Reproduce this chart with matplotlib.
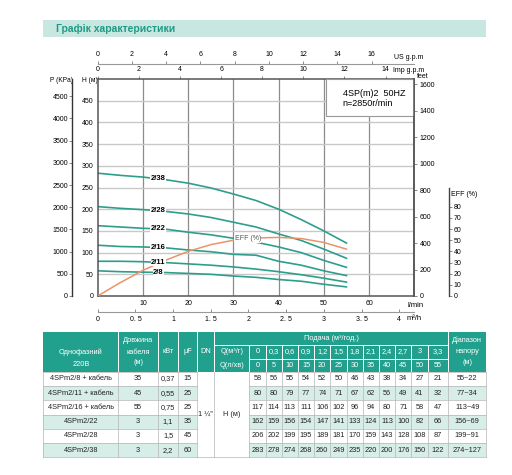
import numpy as np
import matplotlib
matplotlib.use('Agg')
import matplotlib.pyplot as plt
from matplotlib.patches import Rectangle

plt.rcParams['font.family'] = ['Liberation Sans', 'DejaVu Sans']

q_lmin = [0, 5, 10, 15, 20, 25, 30, 35, 40, 45, 50, 55]
q_m3h = ['0', '0,3', '0,6', '0,9', '1,2', '1,5', '1,8', '2,1', '2,4', '2,7', '3', '3,3']
curve_names = ['2/8', '2/11', '2/16', '2/22', '2/28', '2/38']
h_2_8 = [58, 56, 55, 54, 52, 50, 46, 43, 38, 34, 27, 21]
h_2_11 = [80, 80, 79, 77, 74, 71, 67, 62, 56, 49, 41, 32]
h_2_16 = [117, 114, 113, 111, 106, 102, 96, 94, 80, 71, 58, 47]
h_2_22 = [162, 159, 156, 154, 147, 141, 133, 124, 113, 100, 82, 66]
h_2_28 = [206, 202, 199, 195, 189, 181, 170, 159, 143, 128, 108, 87]
h_2_38 = [283, 278, 274, 268, 260, 249, 235, 220, 200, 176, 150, 122]
heads = [h_2_8, h_2_11, h_2_16, h_2_22, h_2_28, h_2_38]
eff = [0, 12, 23, 32, 40, 46, 50, 52, 52.5, 51.5, 48, 42]

models = ['4SPm2/8 + кабель', '4SPm2/11 + кабель', '4SPm2/16 + кабель',
          '4SPm2/22', '4SPm2/28', '4SPm2/38']
cable_len = ['35', '45', '55', '3', '3', '3']
kw = ['0,37', '0,55', '0,75', '1,1', '1,5', '2,2']
uf = ['15', '25', '25', '35', '45', '60']
head_range = ['55~22', '77~34', '113~49', '156~69', '199~91', '274~127']

us_ticks = list(range(0, 17, 2))
imp_ticks = list(range(0, 15, 2))
m3h_ticks = [0, 0.5, 1, 1.5, 2, 2.5, 3, 3.5, 4]
m3h_labels = ['0', '0. 5', '1', '1. 5', '2', '2. 5', '3', '3. 5', '4']

W, H = 512, 475
teal = '#22a08e'
light = '#d6ede8'
line_c = '#2e9e8c'
orange = '#e8956a'


def px(x0, y0, x1, y1):
    return [x0 / W, 1 - y1 / H, (x1 - x0) / W, (y1 - y0) / H]


fig = plt.figure(figsize=(5.12, 4.75), dpi=100)

bg = fig.add_axes([0, 0, 1, 1])
bg.set_xlim(0, W)
bg.set_ylim(H, 0)
bg.axis('off')

# title banner
bg.add_patch(Rectangle((43, 20), 443, 16.7, color='#c9e7e1', lw=0))
bg.text(56, 28.5, 'Графік характеристики', fontsize=7.5, fontweight='bold',
        color='#1e9a87', va='center')

# main chart
L, R, T, B = 97.7, 414.3, 79, 296
ax = fig.add_axes(px(L, T, R, B))
ax.set_xlim(0, 70)
ax.set_ylim(0, 500)
ax.set_xticks(range(10, 70, 10))
ax.set_yticks(range(0, 500, 50))
ax.tick_params(length=0, labelsize=5, pad=3)
for x in range(10, 70, 10):
    ax.axvline(x, color='#8c8c8c', lw=0.9, zorder=1)
for y in range(50, 500, 50):
    ax.axhline(y, color='#c8c8c8', lw=1.0, zorder=1)
for s in ax.spines.values():
    s.set_color('#555555')
    s.set_linewidth(1.1)

for name, h in zip(curve_names, heads):
    ax.plot(q_lmin, h, color=line_c, lw=1.2, zorder=2)

# info box
ax.add_patch(Rectangle((0.72, 0.83), 0.28, 0.17, transform=ax.transAxes,
                       fc='white', ec='#999999', lw=0.8, zorder=3))
ax.text(0.774, 0.934, '4SP(m)2  50HZ', transform=ax.transAxes, fontsize=6.5,
        va='center', zorder=4)
ax.text(0.774, 0.888, 'n=2850r/min', transform=ax.transAxes, fontsize=6.5,
        va='center', zorder=4)

# top Imp gpm axis on the frame
imp = ax.secondary_xaxis('top', functions=(lambda q: q / 4.546, lambda g: g * 4.546))
imp.set_xticks(imp_ticks)
imp.tick_params(length=2.5, width=0.6, labelsize=5, pad=1.5, color='#777777')
imp.spines['top'].set_visible(False)

# feet axis (right)
axf = ax.twinx()
axf.set_ylim(0, 500 * 3.2808)
axf.set_yticks(range(0, 1601, 200))
axf.tick_params(length=2, width=0.6, labelsize=5, pad=2, color='#777777')
for k in ['top', 'left', 'bottom']:
    axf.spines[k].set_visible(False)
axf.spines['right'].set_color('#555555')
axf.spines['right'].set_linewidth(1.1)

# efficiency axis
axe = ax.twinx()
axe.set_ylim(0, 217 / 11.16 * 10)
axe.set_xlim(0, 70)
axe.plot(q_lmin, eff, color=orange, lw=1.1, zorder=2)
for k in ['top', 'left', 'bottom']:
    axe.spines[k].set_visible(False)
axe.spines['right'].set_position(('outward', 34.4 * 0.72))
axe.spines['right'].set_bounds(0, 97)
axe.spines['right'].set_color('#444444')
axe.spines['right'].set_linewidth(1.0)
axe.set_yticks(range(0, 81, 10))
axe.tick_params(length=2, width=0.6, labelsize=5, pad=1.5, color='#777777')

# curve labels on top layer
for name, h in zip(curve_names, heads):
    yv = np.interp(13.4, q_lmin, h)
    axe.text(13.4, yv, name, transform=ax.transData, fontsize=5.5,
             fontweight='bold', ha='center', va='center', zorder=5,
             bbox=dict(fc='white', ec='none', pad=0.3))
axe.text(30.3, np.interp(30.3, q_lmin, eff) * 2.572 + 3, 'EFF (%)',
         transform=ax.transData, fontsize=5, ha='left', va='center',
         color='#555555', zorder=5, bbox=dict(fc='white', ec='none', pad=0.2))

# US gpm axis
axu = fig.add_axes(px(L, 64, R, 65))
axu.set_xlim(0, 70 / 3.785)
axu.set_ylim(0, 1)
axu.patch.set_visible(False)
for k in ['bottom', 'left', 'right']:
    axu.spines[k].set_visible(False)
axu.spines['top'].set_color('#999999')
axu.spines['top'].set_linewidth(0.8)
axu.set_yticks([])
axu.set_xticks(us_ticks)
axu.tick_params(axis='x', top=True, labeltop=True, bottom=False, labelbottom=False,
                length=2.5, width=0.6, labelsize=5, pad=1.5, color='#777777')

# m3/h axis
axm = fig.add_axes(px(L, 311, R, 312))
axm.set_xlim(0, 70 / 16.667)
axm.set_ylim(0, 1)
axm.patch.set_visible(False)
for k in ['top', 'left', 'right']:
    axm.spines[k].set_visible(False)
axm.spines['bottom'].set_color('#999999')
axm.spines['bottom'].set_linewidth(0.8)
axm.set_yticks([])
axm.set_xticks(m3h_ticks)
axm.set_xticklabels(m3h_labels)
axm.tick_params(axis='x', direction='in', length=2.5, width=0.6, labelsize=5,
                pad=3, color='#777777')

# pressure axis
axp = fig.add_axes(px(72.2, T, 73.2, B))
axp.set_ylim(0, 500 * 9.78)
axp.patch.set_visible(False)
for k in ['top', 'bottom', 'right']:
    axp.spines[k].set_visible(False)
axp.spines['left'].set_color('#333333')
axp.spines['left'].set_linewidth(1.0)
axp.set_xticks([])
axp.set_yticks(range(0, 4501, 500))
axp.tick_params(axis='y', length=2, width=0.6, labelsize=5, pad=1, color='#777777')

# axis captions
bg.text(50, 80.5, 'P (KPa)', fontsize=4.8, va='center')
bg.text(82, 80.5, 'H (м)', fontsize=4.8, va='center')
bg.text(417, 77, 'feet', fontsize=5, va='center')
bg.text(394, 57.5, 'US g.p.m', fontsize=5, va='center')
bg.text(393, 71, 'Imp g.p.m', fontsize=5, va='center')
bg.text(407, 305.5, 'l/min', fontsize=5.5, va='center')
bg.text(407, 318, 'm³/h', fontsize=5.5, va='center')
bg.text(451, 194.5, 'EFF (%)', fontsize=5, va='center')

# ---------- table ----------
x_edges = [43.3, 118.3, 157.7, 178.3, 197.3, 214.3, 249.3]
val_edges = [249.3 + 16.2 * i for i in range(12)] + [448.3]
x_right = 486
ty0, ty1, ty2, ty3 = 331.7, 345.3, 358.5, 371.7
rh = 14.27
fs = 5.3

bg.add_patch(Rectangle((x_edges[0], ty0), x_right - x_edges[0], ty3 - ty0, color=teal, lw=0))
for x in x_edges[1:6] + [448.3]:
    bg.plot([x, x], [ty0, ty3], color='white', lw=0.7)
for x in val_edges[:-1]:
    bg.plot([x, x], [ty1, ty3], color='white', lw=0.7)
bg.plot([214.3, 448.3], [ty1, ty1], color='white', lw=0.7)
bg.plot([249.3, 448.3], [ty2, ty2], color='white', lw=0.7)

hc = dict(color='white', fontsize=fs, ha='center', va='center')
bg.text(80.8, 352, 'Однофазний', **hc)
bg.text(80.8, 364.5, '220В', **hc)
bg.text(138, 340.5, 'Довжина', **hc)
bg.text(138, 352, 'кабеля', **hc)
bg.text(138, 362.5, '(м)', **hc)
bg.text(168, 351.7, 'кВт', **hc)
bg.text(187.8, 351.7, 'μF', **hc)
bg.text(205.8, 351.7, 'DN', **hc)
bg.text(231.8, 351.7, 'Q(м³/г)', **hc)
bg.text(231.8, 365.2, 'Q(л/хв)', **hc)
bg.text(331.3, 338.5, 'Подача (м³/год.)', **hc)
bg.text(467.2, 340, 'Діапазон', **hc)
bg.text(467.2, 351.5, 'напору', **hc)
bg.text(467.2, 362.5, '(м)', **hc)
for i in range(12):
    cx = (val_edges[i] + val_edges[i + 1]) / 2
    bg.text(cx, 351.9, q_m3h[i], **hc)
    bg.text(cx, 365.1, str(q_lmin[i]), **hc)

tb = ty3 + 6 * rh
gc = '#b4b4b4'
for r in range(6):
    y0 = ty3 + r * rh
    fc = 'white' if r % 2 == 0 else light
    bg.add_patch(Rectangle((x_edges[0], y0), x_right - x_edges[0], rh, color=fc, lw=0))
bg.add_patch(Rectangle((197.3, ty3), 249.3 - 197.3, tb - ty3, color='white', lw=0))
for r in range(7):
    y = ty3 + r * rh
    bg.plot([x_edges[0], 197.3], [y, y], color=gc, lw=0.5)
    bg.plot([249.3, x_right], [y, y], color=gc, lw=0.5)
bg.plot([197.3, 249.3], [tb, tb], color=gc, lw=0.5)
for x in x_edges + val_edges[1:] + [x_right]:
    bg.plot([x, x], [ty3, tb], color=gc, lw=0.5)

tc = dict(color='#222222', fontsize=fs, ha='center', va='center')
for r in range(6):
    cy = ty3 + (r + 0.5) * rh
    bg.text(80.8, cy, models[r], **tc)
    bg.text(138, cy, cable_len[r], **tc)
    bg.text(168, cy, kw[r], **tc)
    bg.text(187.8, cy, uf[r], **tc)
    for i in range(12):
        cx = (val_edges[i] + val_edges[i + 1]) / 2
        bg.text(cx, cy, str(heads[r][i]), **tc)
    bg.text(467.2, cy, head_range[r], **tc)
bg.text(205.8, (ty3 + tb) / 2, '1 ¼"', **tc)
bg.text(231.8, (ty3 + tb) / 2, 'H (м)', **tc)

fig.savefig('out.png', dpi=100)
